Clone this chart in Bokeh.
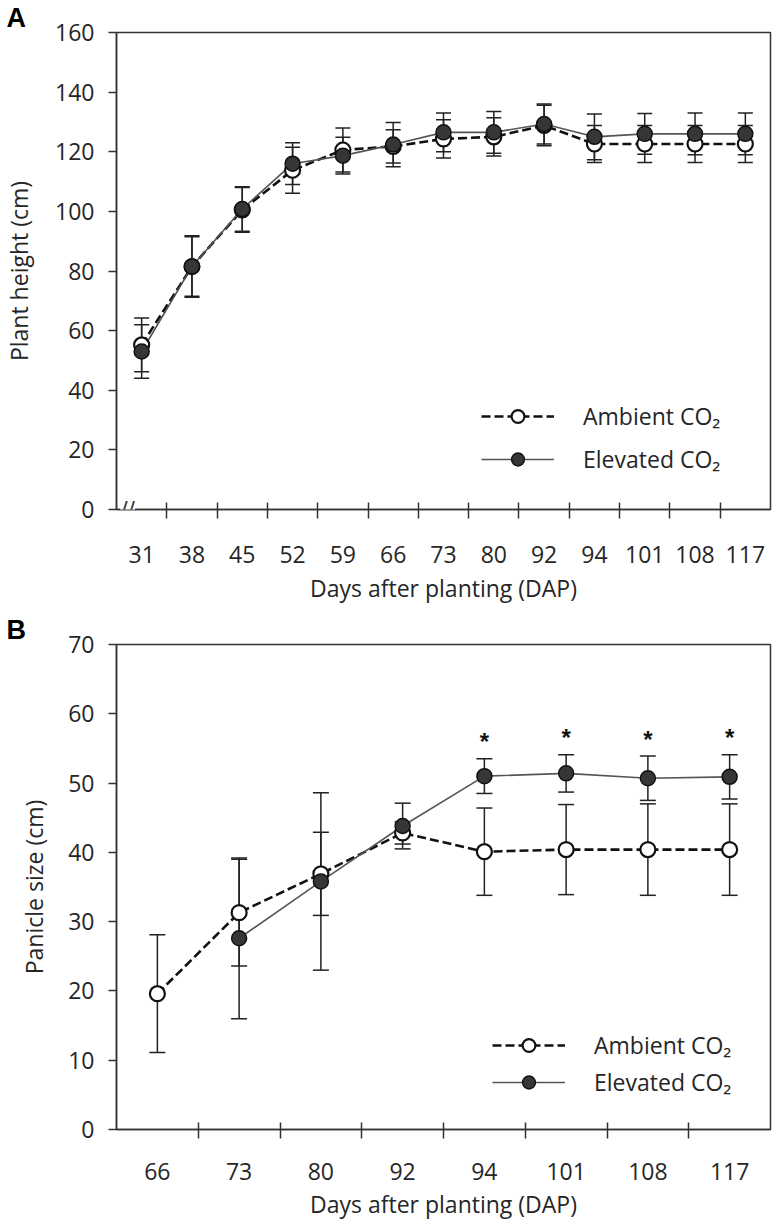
import math
from bokeh.plotting import figure
from bokeh.models import (ColumnDataSource, Range1d, FixedTicker, Whisker, TeeHead,
                          Legend, LegendItem, Label)
from bokeh.layouts import column
from bokeh.embed import file_html
from bokeh.resources import INLINE
from bokeh.core.properties import value

# ---------------- data ----------------
days_a = ["31", "38", "45", "52", "59", "66", "73", "80", "92", "94", "101", "108", "117"]
amb_a = [55.2, 81.5, 100.5, 113.8, 120.6, 121.8, 124.3, 125.0, 128.8, 122.6, 122.6, 122.6, 122.6]
amb_a_err = [9.0, 10.0, 7.5, 7.7, 7.4, 5.6, 6.4, 6.4, 6.8, 6.2, 6.2, 6.2, 6.2]
elev_a = [53.0, 81.5, 100.8, 116.0, 118.7, 122.4, 126.5, 126.5, 129.3, 125.0, 126.0, 126.0, 126.0]
elev_a_err = [9.0, 10.3, 7.5, 7.0, 6.2, 7.4, 6.5, 7.0, 6.7, 7.7, 6.8, 7.0, 7.0]
yticks_a = [0, 20, 40, 60, 80, 100, 120, 140, 160]

days_b = ["66", "73", "80", "92", "94", "101", "108", "117"]
amb_b = [19.6, 31.3, 36.9, 42.8, 40.1, 40.4, 40.4, 40.4]
amb_b_err = [8.5, 7.7, 6.0, 1.6, 6.3, 6.5, 6.6, 6.6]
elev_b = [float("nan"), 27.6, 35.8, 43.8, 51.0, 51.4, 50.7, 50.9]
elev_b_err = [float("nan"), 11.6, 12.8, 3.3, 2.5, 2.7, 3.2, 3.2]
sig_b = ["", "", "", "", "*", "*", "*", "*"]
yticks_b = [0, 10, 20, 30, 40, 50, 60, 70]

FONT = "Open Sans"
TXT = "#262626"
AX = "#333333"


def series_source(vals, errs):
    xs, ys, lo, hi = [], [], [], []
    for i, (v, e) in enumerate(zip(vals, errs)):
        if v is None or (isinstance(v, float) and math.isnan(v)):
            continue
        xs.append(i)
        ys.append(v)
        lo.append(v - e)
        hi.append(v + e)
    return ColumnDataSource(dict(x=xs, y=ys, lower=lo, upper=hi))


def make_panel(days, amb, amb_err, elev, elev_err, yticks, width, height,
               borders, tick_standoff, xlab_standoff, ylab_standoff, legend_loc,
               legend_spacing, letter, letter_offset, ylabel, cap):
    n = len(days)
    bl, br, bt, bb = borders
    p = figure(width=width, height=height, output_backend="svg", toolbar_location=None,
               x_range=Range1d(-0.5, n - 0.5), y_range=Range1d(yticks[0], yticks[-1]),
               min_border_left=bl, min_border_right=br, min_border_top=bt,
               min_border_bottom=bb, title=letter)
    p.title.text_font = "Liberation Sans"
    p.title.text_font_style = "bold"
    p.title.text_font_size = "27px"
    p.title.text_color = "#000000"
    p.title.align = "left"
    p.title.offset = letter_offset
    p.title.standoff = 0

    p.xgrid.visible = False
    p.ygrid.visible = False
    p.outline_line_color = AX
    p.outline_line_width = 1.5
    p.background_fill_color = "white"
    p.border_fill_color = "white"

    # x axis: labels at category centres, ticks at the boundaries
    xa = p.xaxis[0]
    xa.ticker = FixedTicker(ticks=list(range(n)), minor_ticks=[i + 0.5 for i in range(n - 1)])
    xa.major_label_overrides = {i: d for i, d in enumerate(days)}
    xa.axis_line_color = AX
    xa.axis_line_width = 1.5
    xa.major_tick_in = 0
    xa.major_tick_out = 0
    xa.minor_tick_in = 7
    xa.minor_tick_out = 9
    xa.minor_tick_line_color = AX
    xa.minor_tick_line_width = 1.5
    xa.major_label_standoff = tick_standoff
    xa.major_label_text_font = FONT
    xa.major_label_text_font_size = "23px"
    xa.major_label_text_color = TXT
    xa.axis_label = "Days after planting (DAP)"
    xa.axis_label_standoff = xlab_standoff
    xa.axis_label_text_font = FONT
    xa.axis_label_text_font_size = "23px"
    xa.axis_label_text_font_style = "normal"
    xa.axis_label_text_color = TXT

    ya = p.yaxis[0]
    ya.ticker = FixedTicker(ticks=yticks, minor_ticks=[])
    ya.axis_line_color = AX
    ya.axis_line_width = 1.5
    ya.major_tick_in = 0
    ya.major_tick_out = 8
    ya.major_tick_line_color = AX
    ya.major_tick_line_width = 1.5
    ya.minor_tick_in = 0
    ya.minor_tick_out = 0
    ya.major_label_standoff = 14
    ya.major_label_text_font = FONT
    ya.major_label_text_font_size = "23px"
    ya.major_label_text_color = TXT
    ya.axis_label = ylabel
    ya.axis_label_standoff = ylab_standoff
    ya.axis_label_text_font = FONT
    ya.axis_label_text_font_size = "23px"
    ya.axis_label_text_font_style = "normal"
    ya.axis_label_text_color = TXT

    src_a = series_source(amb, amb_err)
    src_e = series_source(elev, elev_err)

    for src in (src_a, src_e):
        w = Whisker(source=src, base="x", upper="upper", lower="lower", dimension="height",
                    line_color="#222222", line_width=1.5,
                    upper_head=TeeHead(size=cap, line_color="#222222", line_width=1.5),
                    lower_head=TeeHead(size=cap, line_color="#222222", line_width=1.5))
        p.add_layout(w)

    la = p.line("x", "y", source=src_a, line_color="#111111", line_width=2.6, line_dash="9 4")
    le = p.line("x", "y", source=src_e, line_color="#555555", line_width=1.6)
    sa = p.scatter("x", "y", source=src_a, size=15, marker="circle", fill_color="white",
                   line_color="#111111", line_width=2.2)
    se = p.scatter("x", "y", source=src_e, size=15, marker="circle", fill_color="#363636",
                   line_color="#111111", line_width=1.5)

    legend = Legend(items=[LegendItem(label="Ambient CO₂", renderers=[la, sa]),
                           LegendItem(label="Elevated CO₂", renderers=[le, se])],
                    location=legend_loc, glyph_width=73, glyph_height=32, label_height=32,
                    spacing=legend_spacing, label_standoff=29, padding=0, margin=0,
                    border_line_alpha=0, background_fill_alpha=0,
                    label_text_font=FONT, label_text_font_size="23px",
                    label_text_color=TXT)
    p.add_layout(legend)
    return p


pa = make_panel(days_a, amb_a, amb_a_err, elev_a, elev_a_err, yticks_a,
                width=781, height=606, borders=(110, 11, 32, 96), tick_standoff=27,
                xlab_standoff=6, ylab_standoff=17, legend_loc=(365, 34), legend_spacing=11,
                letter="A", letter_offset=-110, ylabel="Plant height (cm)", cap=15)
# axis break mark
pa.add_layout(Label(x=-0.28, y=0, text="//", text_font="DejaVu Sans", text_font_size="22px",
                    text_color=AX, text_align="center", text_baseline="middle",
                    background_fill_color="white"))

pb = make_panel(days_b, amb_b, amb_b_err, elev_b, elev_b_err, yticks_b,
                width=781, height=616, borders=(113, 5, 38, 93), tick_standoff=24,
                xlab_standoff=5, ylab_standoff=15, legend_loc=(376, 31), legend_spacing=5,
                letter="B", letter_offset=-110, ylabel="Panicle size (cm)", cap=16)

# significance asterisks above elevated error bars
star_x = [i for i, s in enumerate(sig_b) if s]
star_y = [elev_b[i] + elev_b_err[i] for i in star_x]
star_t = [sig_b[i] for i in star_x]
pb.text(x=star_x, y=star_y, text=star_t, text_align="center", text_baseline="middle",
        y_offset=-17, text_font=value("Liberation Sans"), text_font_style="bold",
        text_font_size="24px", text_color="#111111")

layout = column(pa, pb, spacing=0)
open("out.html", "w").write(file_html(layout, INLINE))
